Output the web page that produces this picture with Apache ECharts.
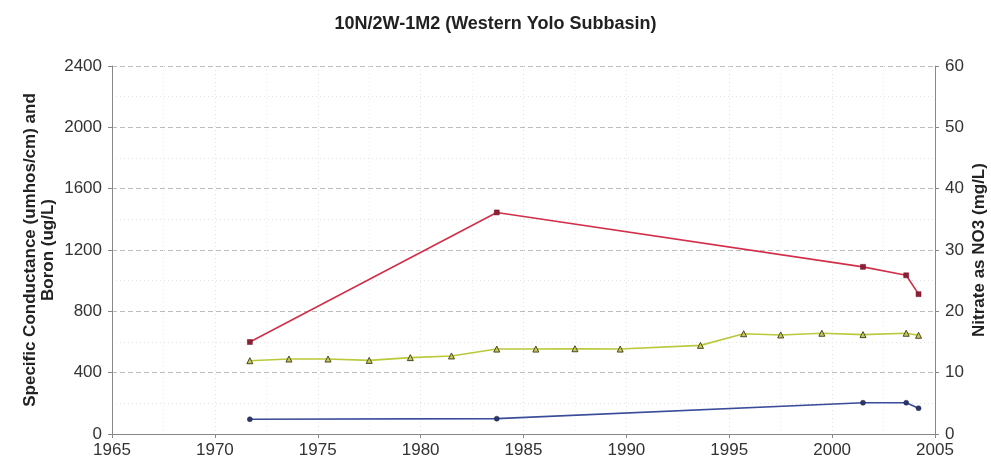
<!DOCTYPE html>
<html>
<head>
<meta charset="utf-8">
<script src="https://cdn.jsdelivr.net/npm/echarts@6/dist/echarts.min.js"></script>
<style>
  html, body { margin: 0; padding: 0; background: #fff; }
  #chart { width: 991px; height: 475px; }
</style>
</head>
<body>
<div id="chart"></div>
<script>
// Well 10N/2W-1M2 water quality record
const titleText = '10N/2W-1M2 (Western Yolo Subbasin)';
const leftAxisName = 'Specific Conductance (umhos/cm) and\nBoron (ug/L)';
const rightAxisName = 'Nitrate as NO3 (mg/L)';

// Specific conductance (umhos/cm)
const scYears  = [1971.7, 1983.7, 2001.5, 2003.6, 2004.2];
const scValues = [600, 1445, 1090, 1035, 912];

// Boron (ug/L)
const boronYears  = [1971.7, 1973.6, 1975.5, 1977.5, 1979.5, 1981.5, 1983.7, 1985.6, 1987.5, 1989.7, 1993.6, 1995.7, 1997.5, 1999.5, 2001.5, 2003.6, 2004.2];
const boronValues = [478, 489, 489, 480, 498, 509, 554, 554, 556, 554, 578, 654, 646, 657, 648, 657, 644];

// Nitrate as NO3 (mg/L)
const no3Years  = [1971.7, 1983.7, 2001.5, 2003.6, 2004.2];
const no3Values = [2.4, 2.5, 5.1, 5.1, 4.2];

const pair = (xs, ys) => xs.map((x, i) => [x, ys[i]]);
const plain = v => String(v);

const FONT = 'Liberation Sans, Arial, sans-serif';
const gridLine = { show: true, lineStyle: { color: '#bdbdbd', type: [5, 3], width: 1 } };
const minorLine = { show: true, lineStyle: { color: '#e4e4e4', type: [1, 3], width: 1 } };
const axisLbl = { color: '#333', fontSize: 17, fontFamily: FONT, formatter: plain };
const nameStyle = { color: '#222', fontSize: 17, fontWeight: 'bold', fontFamily: FONT, lineHeight: 18 };

const chart = echarts.init(document.getElementById('chart'), null, { renderer: 'canvas' });
chart.setOption({
  animation: false,
  backgroundColor: '#fff',
  title: {
    text: titleText,
    left: 'center',
    top: 10,
    textStyle: { color: '#222', fontSize: 18, fontWeight: 'bold', fontFamily: FONT }
  },
  grid: { left: 112, right: 56, top: 66, bottom: 41, containLabel: false, outerBoundsMode: 'none' },
  xAxis: {
    type: 'value',
    min: 1965, max: 2005, interval: 5,
    axisLine: { show: true, lineStyle: { color: '#888' } },
    axisTick: { show: true, length: 4, lineStyle: { color: '#888' } },
    axisLabel: Object.assign({ margin: 8 }, axisLbl),
    splitLine: { show: true, lineStyle: { color: '#e2e2e2', type: [1, 3] } },
    minorTick: { show: false, splitNumber: 2 },
    minorSplitLine: { show: true, lineStyle: { color: '#ededed', type: [1, 3] } }
  },
  yAxis: [
    {
      type: 'value',
      min: 0, max: 2400, interval: 400,
      name: leftAxisName,
      nameLocation: 'middle',
      nameGap: 55,
      nameMoveOverlap: false,
      nameTextStyle: nameStyle,
      axisLine: { show: true, lineStyle: { color: '#888' } },
      axisTick: { show: true, length: 4, lineStyle: { color: '#888' } },
      axisLabel: Object.assign({ margin: 10 }, axisLbl),
      splitLine: gridLine,
      minorTick: { show: false, splitNumber: 2 },
      minorSplitLine: minorLine
    },
    {
      type: 'value',
      min: 0, max: 60, interval: 10,
      name: rightAxisName,
      nameLocation: 'middle',
      nameGap: 35,
      nameMoveOverlap: false,
      nameTextStyle: nameStyle,
      axisLine: { show: true, lineStyle: { color: '#888' } },
      axisTick: { show: true, length: 4, lineStyle: { color: '#888' } },
      axisLabel: Object.assign({ margin: 10 }, axisLbl),
      splitLine: { show: false }
    }
  ],
  series: [
    {
      name: 'Specific Conductance',
      type: 'line',
      yAxisIndex: 0,
      data: pair(scYears, scValues),
      symbol: 'rect',
      symbolSize: 5,
      lineStyle: { color: '#d2304a', width: 1.6 },
      itemStyle: { color: '#8e1f35', borderColor: '#6e1427', borderWidth: 0.5 }
    },
    {
      name: 'Boron',
      type: 'line',
      yAxisIndex: 0,
      data: pair(boronYears, boronValues),
      symbol: 'triangle',
      symbolSize: 6,
      lineStyle: { color: '#b9c93a', width: 1.6 },
      itemStyle: { color: '#c6c85a', borderColor: '#4a4a20', borderWidth: 1 }
    },
    {
      name: 'Nitrate as NO3',
      type: 'line',
      yAxisIndex: 1,
      data: pair(no3Years, no3Values),
      symbol: 'circle',
      symbolSize: 5,
      lineStyle: { color: '#3a4c9a', width: 1.6 },
      itemStyle: { color: '#2c3668', borderColor: '#1e2650', borderWidth: 0.5 }
    }
  ]
});
</script>
</body>
</html>
